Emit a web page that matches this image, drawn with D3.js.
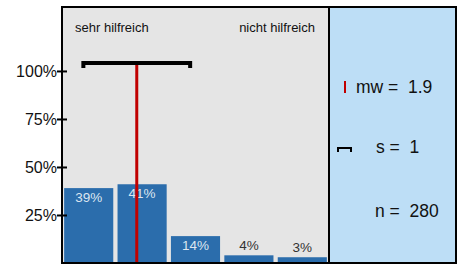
<!DOCTYPE html>
<html>
<head>
<meta charset="utf-8">
<script src="https://cdn.jsdelivr.net/npm/d3@7"></script>
<style>
  body { margin: 0; background: #fff; }
  text { font-family: "Liberation Sans", Arial, sans-serif; }
</style>
</head>
<body>
<svg id="chart"></svg>
<script>
// data
var categories = [1, 2, 3, 4, 5];
var percents = [39, 41, 14, 4, 3];
var yTicks = [25, 50, 75, 100];
var leftLabel = "sehr hilfreich";
var rightLabel = "nicht hilfreich";
var meanValue = 1.9;
var sdValue = 1;
var nValue = 280;

var width = 464, height = 264;
var svg = d3.select("#chart").attr("width", width).attr("height", height);

var plotLeft = 62, plotRight = 329, plotTop = 7, plotBottom = 263, boxRight = 456;

var x = d3.scaleBand()
    .domain(categories)
    .range([plotLeft, plotRight])
    .paddingInner(0.08)
    .paddingOuter(0.04);

// linear scale for mean position (category units)
var xm = d3.scaleLinear()
    .domain([1, 5])
    .range([x(1) + x.bandwidth() / 2, x(5) + x.bandwidth() / 2]);

var y = d3.scaleLinear()
    .domain([0, 133.3])
    .range([plotBottom, plotTop]);

// panels
svg.append("rect")
    .attr("x", plotLeft).attr("y", plotTop)
    .attr("width", plotRight - plotLeft).attr("height", plotBottom - plotTop)
    .attr("fill", "#e5e5e5");
svg.append("rect")
    .attr("x", plotRight).attr("y", plotTop)
    .attr("width", boxRight - plotRight).attr("height", plotBottom - plotTop)
    .attr("fill", "#bddef6");

// bars
svg.selectAll(".bar")
    .data(percents).enter()
    .append("rect")
    .attr("class", "bar")
    .attr("x", (d, i) => x(categories[i]))
    .attr("y", d => y(d))
    .attr("width", x.bandwidth())
    .attr("height", d => y(0) - y(d))
    .attr("fill", "#2b6dac");

// bar labels
svg.selectAll(".lbl")
    .data(percents).enter()
    .append("text")
    .attr("class", "lbl")
    .attr("x", (d, i) => x(categories[i]) + x.bandwidth() / 2)
    .attr("y", d => d > 10 ? y(d) + 14 : y(d) - 5)
    .attr("text-anchor", "middle")
    .attr("font-size", "13.5px")
    .attr("fill", d => d > 10 ? "#dde6f0" : "#333")
    .text(d => d + "%");

// mean line
svg.append("line")
    .attr("x1", xm(meanValue)).attr("x2", xm(meanValue))
    .attr("y1", 65).attr("y2", plotBottom)
    .attr("stroke", "#c00000")
    .attr("stroke-width", 3);

// sd bracket
var bx1 = xm(meanValue - sdValue), bx2 = xm(meanValue + sdValue);
svg.append("path")
    .attr("d", "M" + bx1 + ",68 L" + bx1 + ",63 L" + bx2 + ",63 L" + bx2 + ",68")
    .attr("fill", "none")
    .attr("stroke", "#000")
    .attr("stroke-width", 4);

// top labels
svg.append("text")
    .attr("x", 75).attr("y", 32)
    .attr("font-size", "13px").attr("fill", "#111")
    .text(leftLabel);
svg.append("text")
    .attr("x", 315).attr("y", 32)
    .attr("text-anchor", "end")
    .attr("font-size", "13px").attr("fill", "#111")
    .text(rightLabel);

// y axis
var yAxis = d3.axisLeft(y)
    .tickValues(yTicks)
    .tickFormat(d => d + "%")
    .tickSize(10)
    .tickPadding(0);
var gy = svg.append("g")
    .attr("transform", "translate(" + (plotLeft + 5) + ",0)")
    .call(yAxis);
gy.select(".domain").remove();
gy.selectAll(".tick line").attr("stroke", "#000").attr("stroke-width", 2);
gy.selectAll(".tick text")
    .attr("font-size", "16px")
    .attr("fill", "#111")
    .attr("x", -10)
    .attr("dy", "0.35em")
    .style("font-family", "Liberation Sans, Arial, sans-serif");

// frame
svg.append("rect")
    .attr("x", plotLeft).attr("y", plotTop)
    .attr("width", boxRight - plotLeft).attr("height", plotBottom - plotTop)
    .attr("fill", "none").attr("stroke", "#000").attr("stroke-width", 2);
svg.append("line")
    .attr("x1", plotRight).attr("x2", plotRight)
    .attr("y1", plotTop).attr("y2", plotBottom)
    .attr("stroke", "#000").attr("stroke-width", 2);

// legend
svg.append("line")
    .attr("x1", 345).attr("x2", 345)
    .attr("y1", 81).attr("y2", 93)
    .attr("stroke", "#c00000").attr("stroke-width", 2);
svg.append("path")
    .attr("d", "M338,152 L338,148 L351,148 L351,152")
    .attr("fill", "none").attr("stroke", "#000").attr("stroke-width", 2);

var legend = [
  {t: "mw = \u00a01.9", x: 356, y: 93},
  {t: "s = \u00a0" + sdValue, x: 376, y: 153},
  {t: "n = \u00a0" + nValue, x: 375, y: 217}
];
svg.selectAll(".leg")
    .data(legend).enter()
    .append("text")
    .attr("class", "leg")
    .attr("x", d => d.x).attr("y", d => d.y)
    .attr("font-size", "17.5px")
    .attr("fill", "#111")
    .text(d => d.t);
</script>
</body>
</html>
